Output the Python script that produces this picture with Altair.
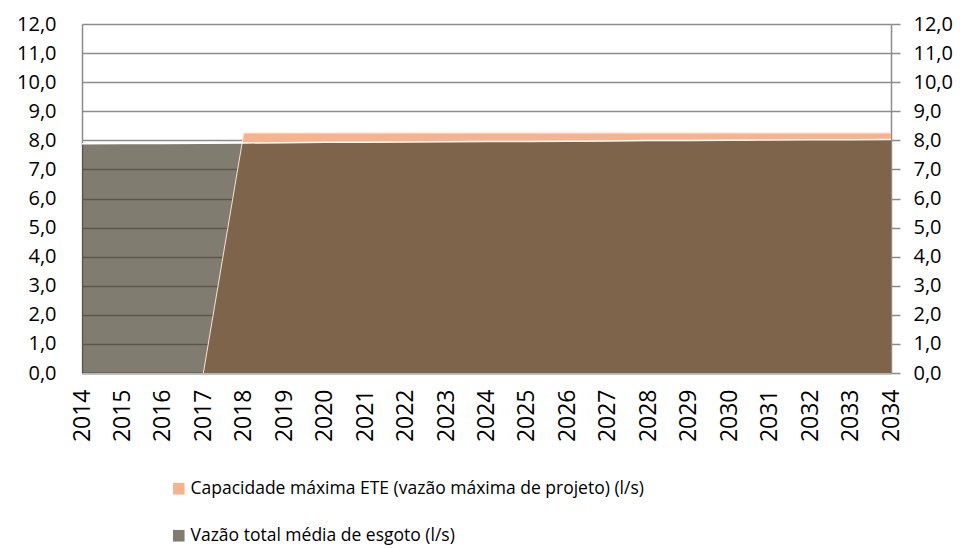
import altair as alt
import pandas as pd

years = list(range(2014, 2035))
capacidade = [0, 0, 0, 0, 8.25, 8.25, 8.25, 8.25, 8.25, 8.25, 8.25,
              8.25, 8.25, 8.25, 8.25, 8.25, 8.25, 8.25, 8.25, 8.25, 8.25]
vazao = [7.88, 7.89, 7.89, 7.90, 7.91, 7.92, 7.93, 7.93, 7.94, 7.95, 7.96,
         7.96, 7.97, 7.98, 7.99, 7.99, 8.00, 8.01, 8.02, 8.02, 8.03]
y_ticks = [float(v) for v in range(0, 13)]

s_cap = "Capacidade máxima ETE (vazão máxima de projeto) (l/s)"
s_vaz = "Vazão total média de esgoto (l/s)"

df = pd.DataFrame({
    "year": years * 2,
    "value": capacidade + vazao,
    "serie": [s_cap] * len(years) + [s_vaz] * len(years),
})

FONT = "Open Sans"
GRID = "#8C8C8C"

x_enc = alt.X("year:Q",
              scale=alt.Scale(domain=[2014, 2034], nice=False, zero=False),
              axis=alt.Axis(values=years, format="d", labelAngle=-90, ticks=False,
                            grid=False, title=None, labelFont=FONT, labelFontSize=23,
                            labelColor="#000000", labelPadding=16,
                            domainColor="#B5B5B5", domainWidth=2.5))

y_scale = alt.Scale(domain=[0, 12], nice=False)
label_expr = "replace(format(datum.value, '.1f'), '.', ',')"

color_enc = alt.Color("serie:N",
                      scale=alt.Scale(domain=[s_cap, s_vaz], range=["#F9B28C", "#423D2A"]),
                      legend=alt.Legend(title=None))
opacity_enc = alt.Opacity("serie:N",
                          scale=alt.Scale(domain=[s_cap, s_vaz], range=[1.0, 0.67]),
                          legend=alt.Legend(title=None))

y_left = alt.Y("value:Q", scale=y_scale,
               axis=alt.Axis(values=y_ticks, labelExpr=label_expr, ticks=False,
                             grid=True, gridColor=GRID, gridWidth=1.5, title=None,
                             labelFont=FONT, labelFontSize=20, labelColor="#000000",
                             labelPadding=26, domainColor=GRID, domainWidth=1.5))

cap_area = alt.Chart(df).transform_filter(
    alt.datum.serie == s_cap
).mark_area(interpolate="linear").encode(
    x=x_enc, y=y_left, color=color_enc, opacity=opacity_enc
)

vaz_area = alt.Chart(df).transform_filter(
    alt.datum.serie == s_vaz
).mark_area(interpolate="linear").encode(
    x=x_enc, y=y_left, color=color_enc, opacity=opacity_enc
)

cap_edge = alt.Chart(df).transform_filter(
    (alt.datum.serie == s_cap) & (alt.datum.year >= 2017)
).mark_line(color="#FCE0D0", strokeWidth=1).encode(x=x_enc, y=y_left)

vaz_edge = alt.Chart(df).transform_filter(
    alt.datum.serie == s_vaz
).mark_line(color="#FFFFFF", strokeWidth=1.5).encode(x=x_enc, y=y_left)

left = alt.layer(cap_area, vaz_area, cap_edge, vaz_edge)

right = alt.Chart(df).transform_filter(
    alt.datum.serie == s_vaz
).mark_line(opacity=0).encode(
    x=x_enc,
    y=alt.Y("value:Q", scale=y_scale,
            axis=alt.Axis(orient="right", values=y_ticks, labelExpr=label_expr,
                          ticks=True, tickSize=9, tickColor=GRID, tickWidth=1.5,
                          grid=False, title=None, labelFont=FONT, labelFontSize=20,
                          labelColor="#000000", labelPadding=13,
                          domainColor=GRID, domainWidth=1.5)),
)

chart = alt.layer(left, right).resolve_scale(y="independent").properties(
    width=809, height=349,
    autosize=alt.AutoSizeParams(type="none"),
    padding={"left": 74, "top": 16, "right": 66, "bottom": 180},
    background="white",
).configure_view(stroke=None).configure_legend(
    orient="none", legendX=88, legendY=456, direction="vertical",
    symbolType="square", symbolSize=135, symbolStrokeWidth=0,
    labelFont=FONT, labelFontSize=17.5, labelColor="#000000", labelLimit=800,
    rowPadding=28, labelOffset=3, padding=0,
)

chart.save("out.html", embed_options={"renderer": "svg", "actions": False})
